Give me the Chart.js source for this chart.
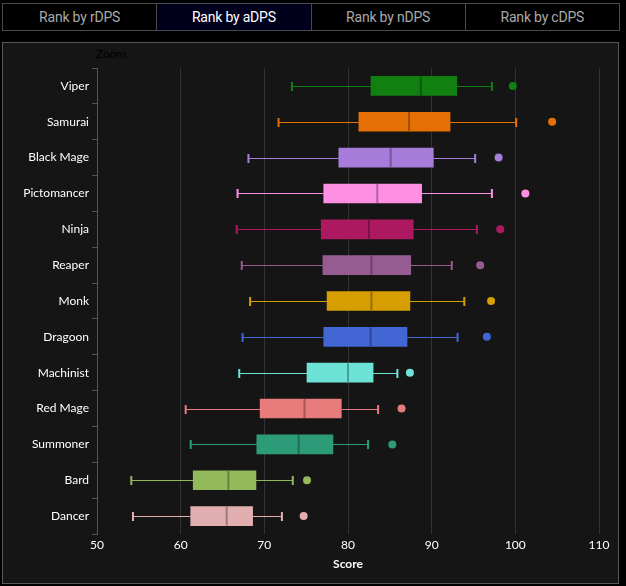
<!DOCTYPE html>
<html>
<head>
<meta charset="utf-8">
<script src="https://cdn.jsdelivr.net/npm/chart.js@4/dist/chart.umd.min.js"></script>
<style>
  html, body { margin:0; padding:0; background:#000; width:626px; height:586px; overflow:hidden; }
  #tabs { position:absolute; left:2px; top:3px; width:618px; height:28px; display:flex; box-sizing:border-box; border:1px solid #4a4a4a; }
  .tab { flex:1; display:flex; align-items:center; justify-content:center; font-family:Roboto, sans-serif; font-size:14px; color:#a9a9a9; border-left:1px solid #4a4a4a; background:#000; letter-spacing:-0.2px; }
  .tab:first-child { border-left:none; }
  .tab.active { background:#00001d; color:#fff; }
  #panel { position:absolute; left:2px; top:42px; width:617px; height:542px; box-sizing:border-box; border:1px solid #585858; background:#151515; }
  #zoomlbl { position:absolute; left:96px; top:46px; font-family:Lato, sans-serif; font-size:12px; color:#000; }
  #wrap { position:absolute; left:0; top:0; width:626px; height:586px; }
</style>
</head>
<body>
<div id="tabs">
  <div class="tab">Rank by rDPS</div>
  <div class="tab active">Rank by aDPS</div>
  <div class="tab">Rank by nDPS</div>
  <div class="tab">Rank by cDPS</div>
</div>
<div id="panel"></div>
<div id="zoomlbl">Zoom</div>
<div id="wrap"><canvas id="c" width="626" height="586"></canvas></div>
<script>
const categories = ["Viper","Samurai","Black Mage","Pictomancer","Ninja","Reaper","Monk","Dragoon","Machinist","Red Mage","Summoner","Bard","Dancer"];
const whiskerLow  = [73.3, 71.7, 68.1, 66.8, 66.7, 67.3, 68.3, 67.4, 67.0, 60.6, 61.2, 54.1, 54.3];
const q1          = [82.75,81.3, 78.9, 77.1, 76.8, 77.0, 77.5, 77.1, 75.1, 69.5, 69.1, 61.5, 61.2];
const medians     = [88.7, 87.3, 85.1, 83.5, 82.5, 82.8, 82.8, 82.7, 80.0, 74.8, 74.1, 65.7, 65.5];
const q3          = [93.0, 92.2, 90.2, 88.8, 87.8, 87.5, 87.4, 87.05,83.0, 79.2, 78.2, 69.0, 68.6];
const whiskerHigh = [97.2, 100.1,95.2, 97.2, 95.4, 92.4, 93.9, 93.1, 85.9, 83.6, 82.4, 73.4, 72.1];
const outliers    = [99.7, 104.4,98.0, 101.2,98.2, 95.8, 97.1, 96.6, 87.4, 86.4, 85.3, 75.1, 74.7];
const colors = ["#118011","#e57005","#a87cdb","#ff8fe2","#ad1961","#965b91","#d69e00","#4266d4","#6de3d6","#e87b7b","#2c9c78","#92ba5b","#e1afaf"];
const xTicks = [50,60,70,80,90,100,110];

function darken(hex, f) {
  const n = parseInt(hex.slice(1), 16);
  const r = Math.round(((n>>16)&255)*f), g = Math.round(((n>>8)&255)*f), b = Math.round((n&255)*f);
  return `rgb(${r},${g},${b})`;
}

const boxPlugin = {
  id: 'boxParts',
  beforeDatasetsDraw(chart) {
    const ctx = chart.ctx, xs = chart.scales.x, ys = chart.scales.y;
    ctx.save();
    categories.forEach((c, i) => {
      const y = Math.round(ys.getPixelForValue(i)) + 0.5;
      ctx.strokeStyle = colors[i];
      ctx.lineWidth = 1;
      ctx.beginPath();
      ctx.moveTo(xs.getPixelForValue(whiskerLow[i]), y);
      ctx.lineTo(xs.getPixelForValue(q1[i]), y);
      ctx.moveTo(xs.getPixelForValue(q3[i]), y);
      ctx.lineTo(xs.getPixelForValue(whiskerHigh[i]), y);
      ctx.stroke();
      ctx.lineWidth = 2;
      ctx.beginPath();
      [whiskerLow[i], whiskerHigh[i]].forEach(v => {
        const x = xs.getPixelForValue(v);
        ctx.moveTo(x, y - 4.5);
        ctx.lineTo(x, y + 4.5);
      });
      ctx.stroke();
    });
    ctx.restore();
  },
  afterDatasetsDraw(chart) {
    const ctx = chart.ctx, xs = chart.scales.x, ys = chart.scales.y;
    ctx.save();
    categories.forEach((c, i) => {
      const y = ys.getPixelForValue(i);
      const x = xs.getPixelForValue(medians[i]);
      ctx.strokeStyle = darken(colors[i], 0.7);
      ctx.lineWidth = 2;
      ctx.beginPath();
      ctx.moveTo(x, y - 9.5);
      ctx.lineTo(x, y + 9.5);
      ctx.stroke();
    });
    ctx.restore();
  }
};

new Chart(document.getElementById('c'), {
  type: 'bar',
  data: {
    labels: categories,
    datasets: [
      {
        type: 'bar',
        data: categories.map((c, i) => [q1[i], q3[i]]),
        backgroundColor: colors,
        borderWidth: 0,
        barThickness: 19,
        order: 2
      },
      {
        type: 'scatter',
        data: categories.map((c, i) => ({ x: outliers[i], y: c })),
        pointBackgroundColor: colors,
        pointBorderWidth: 0,
        pointRadius: 4,
        showLine: false,
        order: 1
      }
    ]
  },
  options: {
    indexAxis: 'y',
    responsive: false,
    animation: false,
    events: [],
    layout: { padding: { left: 0, right: 27, top: 68, bottom: 0 } },
    plugins: { legend: { display: false }, tooltip: { enabled: false } },
    scales: {
      x: {
        type: 'linear',
        min: 50, max: 110,
        afterBuildTicks(scale) { scale.ticks = xTicks.map(v => ({ value: v })); },
        afterFit(scale) { scale.height = 52; },
        grid: { color: '#333333', drawTicks: false, lineWidth: 1 },
        border: { display: false },
        ticks: { color: '#ffffff', font: { family: 'Lato', size: 12 }, padding: 4 },
        title: { display: true, text: 'Score', color: '#ffffff', font: { family: 'Lato', size: 12, weight: 'bold' }, padding: { top: 0, bottom: 15 } }
      },
      y: {
        type: 'category',
        offset: true,
        afterFit(scale) { scale.width = 97; },
        grid: { offset: true, drawOnChartArea: false, drawTicks: true, tickLength: 5, color: '#555555' },
        border: { display: true, color: '#555555' },
        ticks: { color: '#ffffff', font: { family: 'Lato', size: 12 }, padding: 3 }
      }
    }
  },
  plugins: [boxPlugin]
});
</script>
</body>
</html>
